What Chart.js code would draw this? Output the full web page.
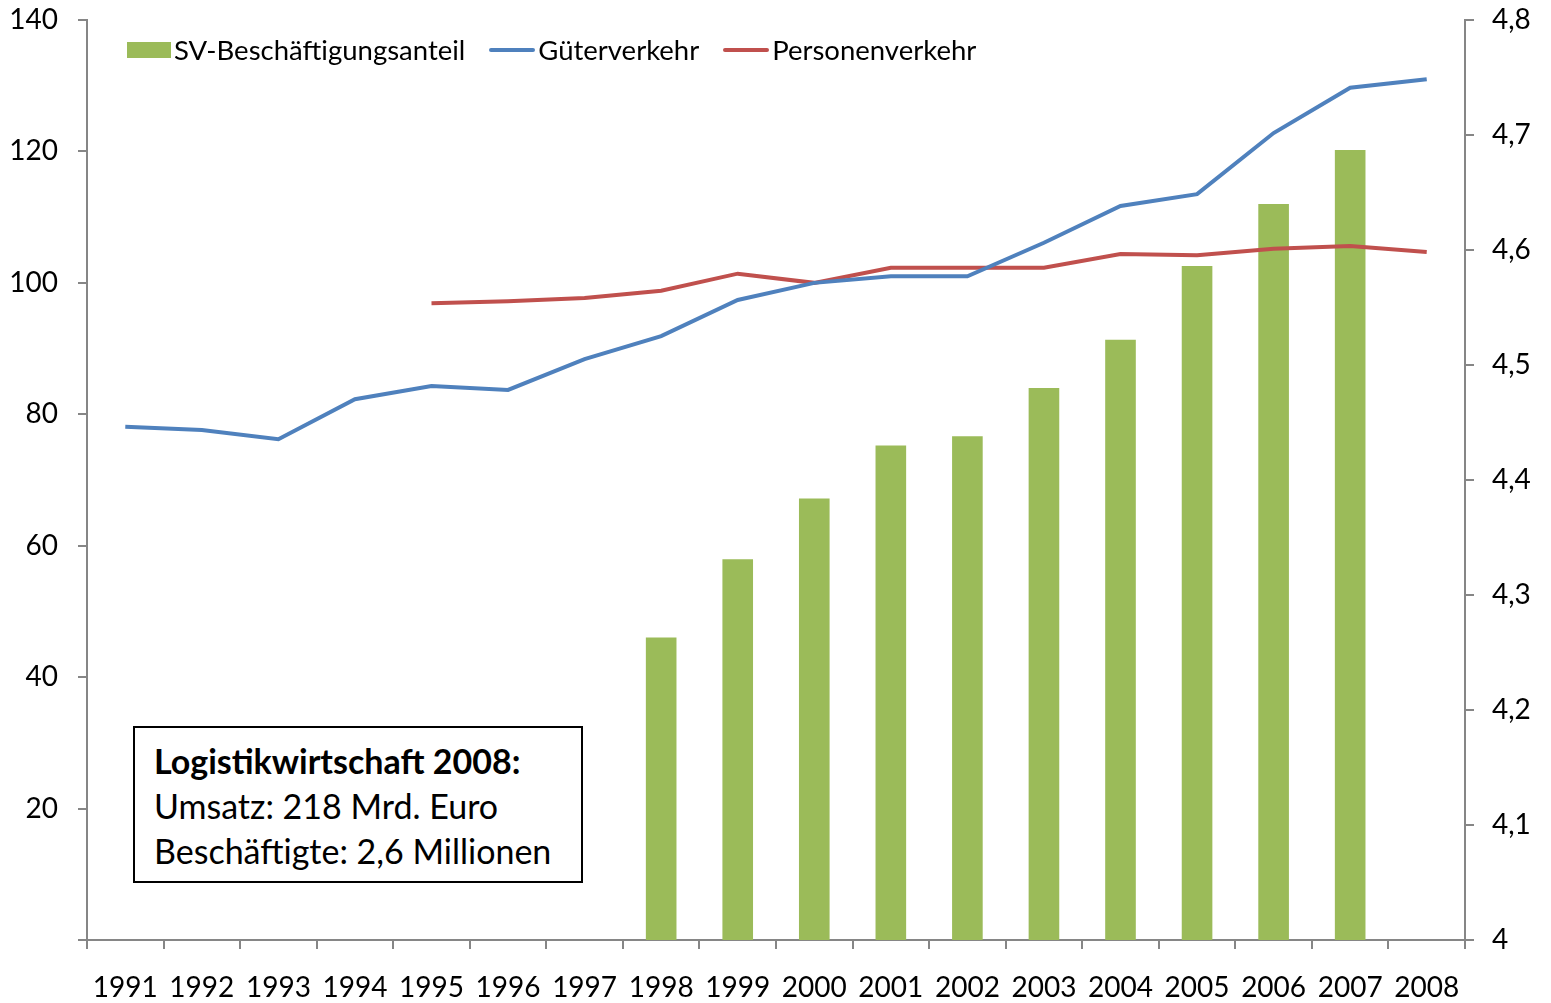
<!DOCTYPE html>
<html>
<head>
<meta charset="utf-8">
<script src="https://cdn.jsdelivr.net/npm/chart.js@4.4.1/dist/chart.umd.min.js"></script>
<style>
  html, body { margin: 0; padding: 0; background: #fff; }
  #wrap { position: relative; width: 1551px; height: 1003px; font-family: Lato, "Open Sans", sans-serif; }
  #legend { position: absolute; left: 127px; top: 33px; display: flex; align-items: center; font-size: 27.5px; color: #000; }
  .leg-item { display: flex; align-items: center; margin-right: 24px; }
  .leg-box { width: 44px; height: 16px; margin-right: 3px; }
  .leg-line { width: 46px; height: 4px; border-radius: 2px; margin-right: 3px; }
  #infobox { position: absolute; left: 133px; top: 726px; width: 450px; height: 157px; border: 2px solid #000;
    box-sizing: border-box; padding: 10px 0 0 19px; font-size: 34px; line-height: 45px; color: #000; background: #fff; }
</style>
</head>
<body>
<div id="wrap">
  <canvas id="chart" width="1551" height="1003"></canvas>
  <div id="legend"></div>
  <div id="infobox"><b>Logistikwirtschaft 2008:</b><br>Umsatz: 218 Mrd. Euro<br>Beschäftigte: 2,6 Millionen</div>
</div>
<script>
// years and series
const years = ['1991', '1992', '1993', '1994', '1995', '1996', '1997', '1998', '1999',
               '2000', '2001', '2002', '2003', '2004', '2005', '2006', '2007', '2008'];
const svAnteil = [null, null, null, null, null, null, null, 4.263, 4.331,
                  4.384, 4.430, 4.438, 4.480, 4.522, 4.586, 4.640, 4.687, null];
const gueterverkehr = [78.1, 77.6, 76.2, 82.3, 84.3, 83.7, 88.4, 91.9, 97.4,
                       100, 101.0, 101.0, 106.1, 111.7, 113.5, 122.8, 129.7, 131.0];
const personenverkehr = [null, null, null, null, 96.9, 97.2, 97.7, 98.8, 101.4,
                         100, 102.3, 102.3, 102.3, 104.4, 104.2, 105.2, 105.6, 104.7];
const leftTicks = [0, 20, 40, 60, 80, 100, 120, 140];
const rightTicks = [4, 4.1, 4.2, 4.3, 4.4, 4.5, 4.6, 4.7, 4.8];

const axisGray = '#868686';
const tickFont = { family: 'Lato, "Open Sans", sans-serif', size: 28 };

// fixed axis sizes so the plot sits where the original has it
function fixY(w) {
    return s => { s.width = w; s.paddingTop = 0; s.paddingBottom = 0; };
}

const ctx = document.getElementById('chart').getContext('2d');
const chart = new Chart(ctx, {
    type: 'bar',
    data: {
        labels: years,
        datasets: [
            {
                type: 'line',
                label: 'Güterverkehr',
                data: gueterverkehr,
                borderColor: '#4F81BD',
                backgroundColor: '#4F81BD',
                borderWidth: 4,
                pointRadius: 0,
                tension: 0,
                yAxisID: 'y',
                order: 1
            },
            {
                type: 'line',
                label: 'Personenverkehr',
                data: personenverkehr,
                borderColor: '#C0504D',
                backgroundColor: '#C0504D',
                borderWidth: 4,
                pointRadius: 0,
                tension: 0,
                yAxisID: 'y',
                order: 2
            },
            {
                label: 'SV-Beschäftigungsanteil',
                data: svAnteil,
                backgroundColor: '#9BBB59',
                barPercentage: 0.4,
                categoryPercentage: 1,
                yAxisID: 'y2',
                order: 3
            }
        ]
    },
    options: {
        responsive: false,
        animation: false,
        layout: { padding: { top: 20, left: 0, right: 0, bottom: 0 } },
        plugins: {
            legend: { display: false },
            tooltip: { enabled: false }
        },
        scales: {
            x: {
                offset: true,
                grid: { display: true, drawOnChartArea: false, offset: true, color: axisGray, lineWidth: 2, tickLength: 9 },
                border: { color: axisGray, width: 2 },
                ticks: { color: '#000', font: tickFont, padding: 22, maxRotation: 0, autoSkip: false },
                afterFit: s => { s.height = 63; s.paddingLeft = 0; s.paddingRight = 0; }
            },
            y: {
                position: 'left',
                min: 0,
                max: 140,
                afterBuildTicks: s => { s.ticks = leftTicks.map(v => ({ value: v })); },
                grid: { drawOnChartArea: false, color: axisGray, lineWidth: 2, tickLength: 9 },
                border: { color: axisGray, width: 2 },
                ticks: {
                    color: '#000', font: tickFont, padding: 20,
                    callback: v => v === 0 ? '' : v
                },
                afterFit: fixY(87)
            },
            y2: {
                position: 'right',
                min: 4,
                max: 4.8,
                afterBuildTicks: s => { s.ticks = rightTicks.map(v => ({ value: v })); },
                grid: { drawOnChartArea: false, color: axisGray, lineWidth: 2, tickLength: 9 },
                border: { color: axisGray, width: 2 },
                ticks: {
                    color: '#000', font: tickFont, padding: 18,
                    callback: v => v === 4 ? '4' : v.toFixed(1).replace('.', ',')
                },
                afterFit: fixY(86)
            }
        }
    }
});

// Legend in the top of the plot, built from the datasets
const legendEl = document.getElementById('legend');
[2, 0, 1].forEach(i => {
    const ds = chart.data.datasets[i];
    const item = document.createElement('div');
    item.className = 'leg-item';
    const mark = document.createElement('span');
    mark.className = ds.type === 'line' ? 'leg-line' : 'leg-box';
    mark.style.background = ds.backgroundColor;
    item.appendChild(mark);
    item.appendChild(document.createTextNode(ds.label));
    legendEl.appendChild(item);
});
</script>
</body>
</html>
